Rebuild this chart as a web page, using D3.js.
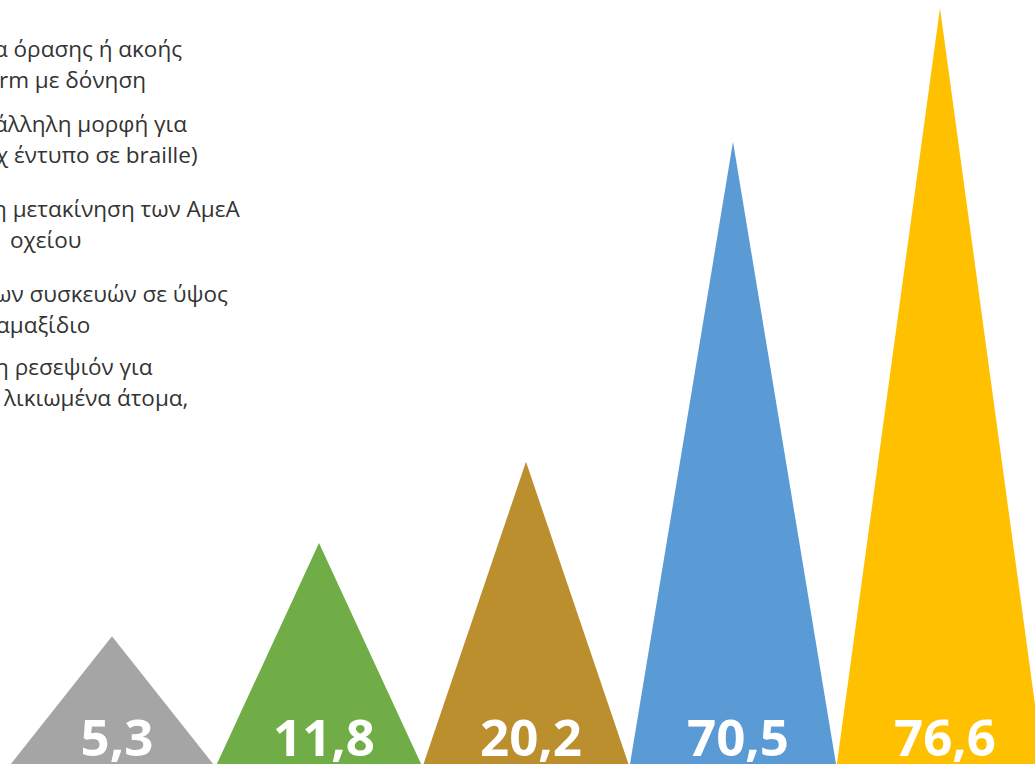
<!DOCTYPE html>
<html>
<head>
<meta charset="utf-8">
<script src="https://cdn.jsdelivr.net/npm/d3@7"></script>
<style>
  html, body { margin: 0; padding: 0; background: #fff; overflow: hidden; }
</style>
</head>
<body>
<div id="chart"></div>
<script>
// legend entries (the left part of the legend lies outside the picture)
var categories = [
	['α όρασης ή ακοής', 'rm με δόνηση'],
	['άλληλη μορφή για', 'χ έντυπο σε braille)'],
	['η μετακίνηση των ΑμεΑ', 'οχείου'],
	['ων συσκευών σε ύψος', 'αμαξίδιο'],
	['η ρεσεψιόν για', 'λικιωμένα άτομα,']
];
// printed data labels
var values = [5.3, 11.8, 20.2, 70.5, 76.6];
// triangle heights as drawn, in label units (the shapes are not proportional to the labels)
var shapeHeights = [13.2, 22.6, 30.8, 63.1, 76.6];
var colors = ['#A5A5A5', '#70AD47', '#BB8E2E', '#5B9BD5', '#FFC000'];

var width = 1035, height = 764;
var baseY = 767;

var svg = d3.select('#chart')
	.append('svg')
	.attr('width', width)
	.attr('height', height)
	.style('font-family', '"Open Sans", "Noto Sans", sans-serif');

var x = d3.scalePoint()
	.domain(d3.range(values.length))
	.range([112, 940]);

var y = d3.scaleLinear()
	.domain([0, 76.6])
	.range([baseY, 8]);

var half = x.step() / 2;

svg.selectAll('path.tri')
	.data(shapeHeights)
	.enter()
	.append('path')
	.attr('class', 'tri')
	.attr('fill', function(d, i) { return colors[i]; })
	.attr('d', function(d, i) {
		var cx = x(i);
		return 'M' + (cx - half) + ',' + baseY +
			'L' + cx + ',' + y(d) +
			'L' + (cx + half) + ',' + baseY + 'Z';
	});

var fmt = function(v) { return d3.format('.1f')(v).replace('.', ','); };

svg.selectAll('text.lbl')
	.data(values)
	.enter()
	.append('text')
	.attr('class', 'lbl')
	.attr('x', function(d, i) { return x(i) + 5; })
	.attr('y', 756)
	.attr('text-anchor', 'middle')
	.attr('fill', '#fff')
	.style('font-weight', 700)
	.style('font-size', '51px')
	.text(fmt);

// Legend, clipped by the left edge of the picture.
var legendY = [57, 132, 217, 302, 375];
var lineX = [[-6, -1], [-6, -4], [-7, 10], [-6, -4], [-5, 4]];
var legend = svg.append('g')
	.style('font-size', '22.5px')
	.attr('fill', '#333');

categories.forEach(function(lines, i) {
	lines.forEach(function(t, j) {
		legend.append('text')
			.attr('x', lineX[i][j])
			.attr('y', legendY[i] + j * 31)
			.text(t);
	});
});
</script>
</body>
</html>
